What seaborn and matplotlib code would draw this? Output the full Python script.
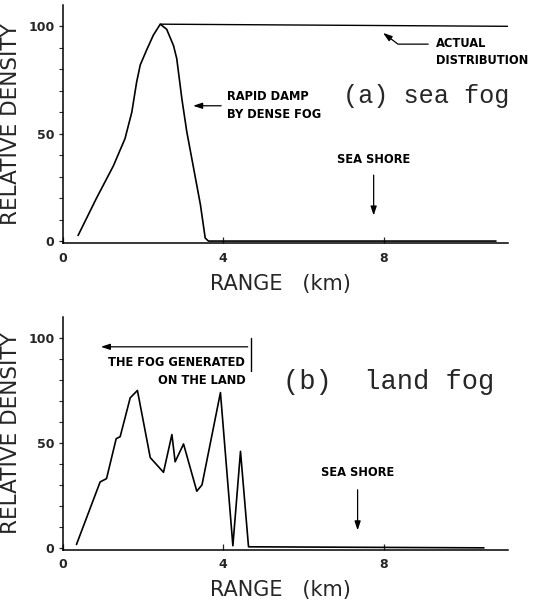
import matplotlib.pyplot as plt
import numpy as np
import pandas as pd
import seaborn as sns

sns.set_style('ticks')
plt.rcParams['font.family'] = ['DejaVu Sans']

# ---- data ----
# (a) sea fog: computed density along the range
sea_range = [0.38, 0.84, 1.26, 1.55, 1.72, 1.84, 1.93, 2.09, 2.26, 2.43,
             2.59, 2.76, 2.84, 2.97, 3.09, 3.26, 3.43, 3.55, 3.63, 10.8]
sea_density = [2.6, 20, 35, 47.7, 60, 74, 82, 89, 96, 101,
               98.6, 91, 85, 66, 51, 34, 17, 1.4, 0, 0]
# actual distribution (flat at 100)
actual_range = [2.43, 11.1]
actual_density = [101, 100]

# (b) land fog
land_range = [0.34, 0.93, 1.09, 1.33, 1.43, 1.68, 1.86, 2.18, 2.51, 2.72,
              2.80, 3.01, 3.34, 3.47, 3.93, 4.24, 4.43, 4.63, 10.5]
land_density = [1.6, 31.4, 33, 52, 53, 71.5, 75, 43, 36, 54,
                41, 49.5, 27, 30, 74, 1, 46, 0.5, 0]

x_ticks = [0, 4, 8]
y_ticks = [0, 50, 100]
panel_titles = ['(a) sea fog', '(b)  land fog']

sea_df = pd.DataFrame({'range': sea_range, 'density': sea_density})
actual_df = pd.DataFrame({'range': actual_range, 'density': actual_density})
land_df = pd.DataFrame({'range': land_range, 'density': land_density})

fig = plt.figure(figsize=(5.37, 6.05), dpi=100)
ax_a = fig.add_axes([0.117, 0.598, 0.829, 0.394])
ax_b = fig.add_axes([0.117, 0.091, 0.829, 0.385])

arrow_kw = dict(arrowstyle='-|>,head_length=0.6,head_width=0.2',
                color='black', lw=0.9, mutation_scale=9)
small_txt = dict(fontsize=8.3, fontweight='bold', color='black')


def style_axes(ax):
    ax.set_xlim(0, 11.1)
    ax.set_ylim(-1, 110)
    sns.despine(ax=ax)
    for sp in ['left', 'bottom']:
        ax.spines[sp].set_linewidth(1.1)
        ax.spines[sp].set_color('black')
    ax.set_xticks(x_ticks)
    ax.set_yticks(y_ticks)
    ax.set_yticks(np.arange(0, 101, 10), minor=True)
    ax.tick_params(axis='x', direction='in', length=4, width=0.9, pad=6,
                   labelsize=9)
    ax.tick_params(axis='y', which='major', direction='out', length=3,
                   width=0.9, pad=3, labelsize=9)
    ax.tick_params(axis='y', which='minor', direction='out', length=3, width=0.8)
    for lab in ax.get_xticklabels() + ax.get_yticklabels():
        lab.set_fontweight('bold')
    ax.set_ylabel('RELATIVE DENSITY', fontsize=15.5)
    ax.yaxis.set_label_coords(-0.094, 0.5)
    ax.set_xlabel('RANGE   (km)', fontsize=15)
    ax.xaxis.set_label_coords(0.488, -0.13)


# ---- (a) sea fog ----
sns.lineplot(data=sea_df, x='range', y='density', ax=ax_a, color='black',
             lw=1.2, sort=False, estimator=None)
sns.lineplot(data=actual_df, x='range', y='density', ax=ax_a, color='black',
             lw=1.0, sort=False, estimator=None)
style_axes(ax_a)

ax_a.annotate('RAPID DAMP\nBY DENSE FOG', xy=(3.18, 63), xytext=(4.1, 63),
              va='center', ha='left', linespacing=1.5,
              arrowprops=arrow_kw, **small_txt)
ax_a.annotate('', xy=(7.93, 97.7), xytext=(9.18, 91.7),
              arrowprops=dict(connectionstyle='angle,angleA=0,angleB=-37,rad=0',
                              **arrow_kw))
ax_a.text(9.3, 88, 'ACTUAL\nDISTRIBUTION', ha='left', va='center',
          linespacing=1.4, **small_txt)
ax_a.text(6.98, 67.5, panel_titles[0], family='Liberation Mono', fontsize=18.2,
          ha='left', va='center')
ax_a.text(7.75, 38, 'SEA SHORE', ha='center', va='center', **small_txt)
ax_a.annotate('', xy=(7.75, 10.6), xytext=(7.75, 32), arrowprops=arrow_kw)

# ---- (b) land fog ----
sns.lineplot(data=land_df, x='range', y='density', ax=ax_b, color='black',
             lw=1.2, sort=False, estimator=None)
style_axes(ax_b)

ax_b.annotate('', xy=(0.88, 95.8), xytext=(4.68, 95.8), arrowprops=arrow_kw)
ax_b.plot([4.68, 4.68], [84.4, 100], color='black', lw=1.0)
ax_b.text(4.55, 84, 'THE FOG GENERATED\nON THE LAND', ha='right', va='center',
          linespacing=1.5, **small_txt)
ax_b.text(5.5, 78.8, panel_titles[1], family='Liberation Mono', fontsize=19.5,
          ha='left', va='center')
ax_b.text(7.35, 36, 'SEA SHORE', ha='center', va='center', **small_txt)
ax_b.annotate('', xy=(7.35, 7), xytext=(7.35, 29), arrowprops=arrow_kw)

fig.savefig('out.png', dpi=100)
